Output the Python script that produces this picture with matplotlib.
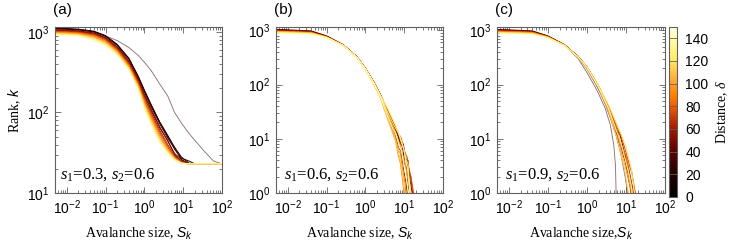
import matplotlib
matplotlib.use("Agg")
import matplotlib.pyplot as plt
import numpy as np
from matplotlib.colors import LinearSegmentedColormap, Normalize
from matplotlib.cm import ScalarMappable
from matplotlib.ticker import LogLocator, NullFormatter

plt.rcParams['font.family'] = ['Liberation Sans', 'DejaVu Sans']
plt.rcParams['mathtext.fontset'] = 'custom'
plt.rcParams['mathtext.rm'] = 'Liberation Serif'
plt.rcParams['mathtext.it'] = 'Liberation Serif:italic'
plt.rcParams['mathtext.sf'] = 'Liberation Sans:italic'
plt.rcParams['axes.unicode_minus'] = False

# ---------------- data ----------------
panel_labels = ['(a)', '(b)', '(c)']
panel_texts = ['$s_1$=0.3, $s_2$=0.6', '$s_1$=0.6, $s_2$=0.6', '$s_1$=0.9, $s_2$=0.6']
y_limits = [(10, 1150), (1, 1150), (1, 1150)]
x_limits = (0.005, 100)
cbar_ticks = [0, 20, 40, 60, 80, 100, 120, 140]
delta_range = (0, 150)

# panel (a): shared avalanche-size grid, rank per curve
a_S = [0.005, 0.01, 0.02, 0.05, 0.1, 0.2, 0.4, 0.7, 1.0, 1.5, 2.5, 4, 6, 9, 14, 20, 35, 60, 100]
a_delta = [5, 12, 22, 32, 42, 52, 62, 72, 82, 92, 102, 115, 125, 135]
a_k = [
    [1100, 1090, 1070, 1000, 890, 780, 640, 510, 420, 330, 225, 160, 100, 74, 55, 45, 33, 25, 23],
    [1110, 1100, 1080, 1020, 900, 700, 471, 280, 190, 125, 76, 52, 37, 28, 23.5, 23, 23, 23, 23],
    [1100, 1090, 1070, 1010, 890, 690, 462, 276, 186, 122, 75, 50, 35, 27, 25, 23, 23, 23, 23],
    [1090, 1080, 1060, 1000, 880, 680, 455, 270, 180, 118, 72, 48, 36, 26, 23, 23, 23, 23, 23],
    [1060, 1050, 1030, 970, 850, 650, 430, 255, 168, 110, 66, 44, 31, 26, 23, 23, 23, 23, 23],
    [1045, 1035, 1015, 955, 835, 640, 425, 250, 162, 106, 64, 45, 30, 25, 23, 23, 23, 23, 23],
    [1030, 1020, 1000, 940, 820, 620, 410, 240, 155, 100, 60, 40, 29, 24.5, 23, 23, 23, 23, 23],
    [1015, 1005, 985, 920, 800, 605, 398, 232, 148, 95, 57, 38, 28, 24, 23, 23, 23, 23, 23],
    [1000, 990, 970, 900, 780, 590, 385, 225, 140, 90, 54, 37, 28, 24, 23, 23, 23, 23, 23],
    [985, 975, 955, 880, 760, 575, 375, 218, 134, 85, 51, 35, 27, 23.5, 23, 23, 23, 23, 23],
    [970, 960, 940, 860, 740, 560, 365, 210, 128, 80, 48, 34, 27, 23.5, 23, 23, 23, 23, 23],
    [950, 940, 920, 835, 720, 548, 355, 204, 123, 77, 46, 33, 26, 23.5, 23, 23, 23, 23, 23],
    [935, 925, 905, 810, 700, 530, 345, 196, 117, 73, 44, 32, 26, 23.5, 23, 23, 23, 23, 23],
    [918, 910, 890, 790, 680, 520, 340, 190, 113, 70, 42, 31, 26, 23.5, 23, 23, 23, 23, 23],
]

# panel (b): common sizes for the plateau, then each curve's own tail
b_S_top = [0.005, 0.04, 0.1, 0.27, 0.6, 1.0, 1.6, 2.4]
b_delta = [18, 45, 55, 62, 75, 88, 95, 100, 112, 125, 130, 140]
b_k_top = [
    [1040, 975, 790, 540, 325, 200, 114, 66],
    [1000, 945, 770, 535, 328, 200, 115, 66],
    [1020, 960, 780, 538, 326, 200, 116, 67],
    [985, 930, 760, 530, 322, 196, 110, 61],
    [970, 920, 760, 532, 326, 200, 115, 67],
    [950, 900, 750, 528, 320, 194, 108, 60],
    [940, 895, 748, 526, 320, 194, 109, 60],
    [958, 906, 753, 528, 322, 196, 111, 63],
    [930, 885, 745, 525, 318, 192, 106, 58],
    [910, 870, 740, 526, 322, 198, 113, 65],
    [900, 860, 738, 524, 320, 196, 112, 64],
    [885, 850, 735, 522, 318, 194, 109, 61],
]
b_S_tail = [
    [3.6, 5.4, 6.5, 8.0, 9.0, 10.5, 11.5, 12.5, 13.5],
    [3.6, 5.4, 6.8, 8.0, 9.5, 11.0, 12.5, 14.0, 16.0],
    [3.6, 5.4, 7.2, 9.0, 11.0, 13.5, 15.0, 16.5],
    [3.6, 4.6, 5.4, 7.5, 8.2, 9.5, 11.0, 12.0],
    [3.6, 5.4, 7.0, 8.5, 10.0, 12.0, 13.0, 15.0, 17.5],
    [3.6, 5.0, 6.0, 7.0, 8.0, 9.0, 10.5, 11.0],
    [3.3, 4.5, 6.0, 7.0, 8.0, 9.0, 9.8],
    [3.6, 5.4, 8.0, 10.8, 13.2, 14.6],
    [3.4, 4.8, 5.5, 6.8, 7.5, 8.8, 10.0, 10.5],
    [3.6, 5.6, 7.0, 8.5, 10.0, 11.5, 12.5, 13.5, 15.0],
    [3.8, 6.0, 7.5, 9.5, 11.0, 12.5, 14.0],
    [3.5, 5.2, 6.2, 7.5, 8.5, 10.0, 12.0, 13.0],
]
b_k_tail = [
    [34, 17, 13, 8, 7.5, 3.3, 3, 1.5, 1],
    [34, 18, 14, 9, 8, 4.2, 4, 1.8, 1],
    [35, 19, 11, 7, 4.5, 2.5, 1.8, 1],
    [30, 20, 14, 6.5, 6, 3, 1.6, 1],
    [36, 19, 13, 10, 6, 4.5, 3, 2, 1],
    [29, 14, 11, 6, 5.5, 2.8, 1.5, 1],
    [30, 16, 9, 5, 3.5, 1.8, 1],
    [31, 15.4, 7.5, 3.2, 1.4, 1],
    [29, 14, 12, 6, 5, 2.6, 1.4, 1],
    [33, 17, 13, 8.5, 6, 3.8, 3.5, 1.8, 1],
    [36, 18, 12, 7, 4, 2.5, 1],
    [30, 15, 12, 7, 6, 3, 1.5, 1],
]

# panel (c)
c_S_top = [0.005, 0.04, 0.1, 0.27, 0.6, 1.0]
c_delta = [4, 10, 35, 50, 58, 74, 82, 88, 102, 110, 118, 135]
c_k_top = [
    [1000, 940, 770, 530, 300, 167],
    [1020, 960, 780, 535, 315, 195],
    [1040, 975, 790, 540, 328, 212],
    [1010, 950, 772, 534, 326, 211],
    [990, 935, 765, 532, 324, 210],
    [970, 920, 760, 530, 324, 212],
    [965, 915, 758, 530, 322, 210],
    [958, 906, 753, 528, 322, 210],
    [930, 885, 745, 525, 318, 206],
    [920, 878, 742, 525, 320, 208],
    [910, 870, 740, 526, 322, 212],
    [885, 850, 735, 522, 318, 208],
]
c_S_tail = [
    [1.63, 1.99, 2.96, 4.0, 4.9, 5.4, 5.6],
    [1.7, 2.3, 3.0, 4.0, 5.5, 7.5, 9.5, 11.0],
    [2.0, 3.6, 5.95, 7.0, 8.9, 10.5, 12.0, 14.6, 15.5],
    [2.0, 3.6, 5.5, 6.5, 8.5, 10.0, 12.5, 14.0],
    [2.0, 3.6, 5.6, 8.0, 9.0, 10.5, 12.5, 13.5],
    [2.0, 3.6, 6.2, 7.5, 9.5, 13.0, 14.0, 16.0, 17.5],
    [2.0, 3.7, 5.8, 7.0, 8.5, 11.0, 13.0, 14.5],
    [2.0, 3.6, 5.95, 8.9, 10.0, 12.0, 14.6, 15.0],
    [2.0, 3.5, 5.5, 6.5, 8.0, 11.0, 13.0, 14.0],
    [2.0, 3.6, 5.0, 6.2, 7.5, 9.0, 10.5, 11.5],
    [2.0, 3.7, 6.4, 8.0, 10.0, 13.5, 15.5, 16.5],
    [2.0, 3.6, 5.8, 7.0, 8.5, 11.5, 13.5, 14.5],
]
c_k_tail = [
    [90, 68, 36, 17.7, 7.5, 3.2, 1],
    [100, 65, 42, 24, 12, 5, 2, 1],
    [92, 37, 14, 12, 6, 4, 2.6, 1.3, 1],
    [91, 36, 15, 9, 5, 3.5, 1.6, 1],
    [90, 35, 12.5, 6, 5.5, 2.5, 1.4, 1],
    [93, 39, 15, 11, 6.5, 2.8, 2.5, 1.4, 1],
    [92, 38, 14, 10, 6, 2.8, 1.5, 1],
    [90, 36, 13.3, 5.7, 5, 2.4, 1.2, 1],
    [88, 34, 12, 10, 5, 2.2, 1.3, 1],
    [89, 35, 15, 9, 5, 3, 1.5, 1],
    [94, 40, 16, 11, 7, 3, 1.5, 1],
    [90, 36, 13.5, 10, 5.8, 2.5, 1.4, 1],
]

# ---------------- colormap ----------------
cmap = LinearSegmentedColormap.from_list('dist', [
    (0.00, '#000000'), (0.13, '#200000'), (0.27, '#5c0000'), (0.40, '#a01800'),
    (0.53, '#f05a00'), (0.60, '#ff8000'), (0.67, '#ffa030'), (0.80, '#ffe860'),
    (0.93, '#ffffa8'), (1.00, '#ffffe8')])
norm = Normalize(*delta_range)

W, H = 736, 249
fig = plt.figure(figsize=(W / 100, H / 100), dpi=100)

def frac(x0, y0, x1, y1):
    return [x0 / W, 1 - y1 / H, (x1 - x0) / W, (y1 - y0) / H]

axes_px = [(55, 27, 222, 193), (276, 27, 443, 193), (497, 27, 665, 193)]
frame_col = '#606060'

curves = [
    [(a_S, k, d) for k, d in zip(a_k, a_delta)],
    [(b_S_top + st, kt + kk, d) for st, kt, kk, d in zip(b_S_tail, b_k_top, b_k_tail, b_delta)],
    [(c_S_top + st, kt + kk, d) for st, kt, kk, d in zip(c_S_tail, c_k_top, c_k_tail, c_delta)],
]

for i, box in enumerate(axes_px):
    ax = fig.add_axes(frac(*box))
    ax.set_xscale('log')
    ax.set_yscale('log')
    for S, k, d in sorted(curves[i], key=lambda t: t[2]):
        if d < 11:
            ax.plot(S, k, color=cmap(norm(d + 25)), lw=0.6, alpha=0.6)
        else:
            ax.plot(S, k, color=cmap(norm(d)), lw=0.7)
    ax.set_xlim(*x_limits)
    ax.set_ylim(*y_limits[i])
    ax.xaxis.set_major_locator(LogLocator(base=10, numticks=20))
    ax.xaxis.set_minor_locator(LogLocator(base=10, subs=np.arange(2, 10), numticks=20))
    ax.xaxis.set_minor_formatter(NullFormatter())
    ax.yaxis.set_minor_formatter(NullFormatter())
    ax.tick_params(which='both', direction='in', top=True, right=True,
                   color=frame_col, labelsize=10, width=0.6)
    ax.tick_params(which='major', length=4, pad=4)
    ax.tick_params(which='minor', length=2)
    for sp in ax.spines.values():
        sp.set_color(frame_col)
        sp.set_linewidth(0.8)
    ax.set_xlabel('Avalanche size, $\\mathsf{S_k}$' if i < 2 else 'Avalanche size,$\\mathsf{S_k}$',
                  family='Liberation Serif', fontsize=10, labelpad=6)
    if i == 0:
        ax.set_ylabel('Rank, $\\mathsf{k}$', family='Liberation Serif', fontsize=10, labelpad=3)
    ax.text(0.03 if i == 0 else 0.045, 0.11, panel_texts[i], transform=ax.transAxes,
            family='Liberation Serif', fontsize=12, va='center', ha='left')
    fig.text((box[0] - 2) / W, 1 - 10 / H, panel_labels[i], fontsize=11, va='center', ha='left')

cax = fig.add_axes(frac(669, 27, 677, 197))
cb = fig.colorbar(ScalarMappable(norm=norm, cmap=cmap), cax=cax)
cb.set_ticks(cbar_ticks)
cb.ax.tick_params(direction='in', left=True, right=True, length=3, color=frame_col,
                  labelsize=10, width=0.6, pad=6)
cb.outline.set_edgecolor(frame_col)
cb.outline.set_linewidth(0.8)
cb.set_label('Distance, $\\delta$', family='Liberation Serif', fontsize=10, labelpad=4)

fig.savefig('out.png', dpi=100)
